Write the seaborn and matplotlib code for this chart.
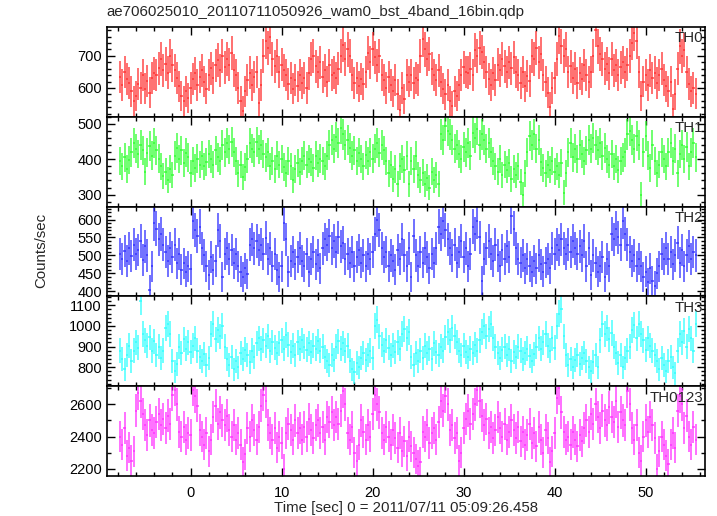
import numpy as np
import pandas as pd
import matplotlib
matplotlib.use("Agg")
import matplotlib.pyplot as plt
from matplotlib.ticker import MultipleLocator
import seaborn as sns

# light curve bins: 0.25 s, first bin centre at -7.75 s
t_start = -7.75
bin_size = 0.25

th0 = [
    635, 610, 650, 628, 615, 590, 560, 575, 612, 600, 640, 598, 622, 585, 630, 645,
    640, 662, 690, 655, 675, 648, 700, 670, 655, 632, 605, 575, 560, 590, 568, 600,
    628, 645, 610, 635, 655, 620, 598, 640, 662, 630, 670, 688, 655, 700, 665, 690,
    672, 710, 655, 640, 600, 560, 528, 590, 625, 648, 610, 635, 650, 552, 610, 700,
    745, 725, 760, 690, 668, 700, 650, 672, 655, 640, 612, 630, 598, 625, 605, 640,
    615, 630, 600, 645, 690, 700, 668, 650, 680, 635, 655, 620, 670, 640, 648, 630,
    660, 700, 735, 690, 720, 700, 640, 615, 630, 605, 628, 612, 650, 710, 680, 722,
    695, 670, 700, 640, 625, 600, 635, 610, 590, 625, 580, 532, 600, 565, 640, 620,
    640, 615, 632, 625, 700, 752, 720, 690, 705, 660, 640, 625, 655, 620, 598, 580,
    610, 560, 545, 590, 575, 610, 640, 665, 650, 648, 660, 640, 718, 700, 725, 712,
    680, 650, 628, 610, 645, 625, 672, 655, 690, 668, 650, 680, 662, 695, 650, 640,
    615, 650, 605, 638, 622, 700, 690, 725, 680, 705, 640, 620, 585, 542, 600, 630,
    690, 762, 730, 700, 720, 650, 668, 630, 660, 615, 645, 628, 670, 640, 618, 650,
    700, 782, 730, 705, 690, 660, 675, 645, 690, 655, 670, 640, 665, 680, 650, 672,
    700, 740, 770, 745, 650, 575, 620, 640, 610, 655, 630, 648, 615, 640, 660, 625,
    605, 590, 620, 535, 580, 660, 730, 700, 718, 650, 612, 590, 600, 582,
]

th1 = [
    395, 380, 405, 372, 398, 420, 446, 430, 415, 440, 425, 365, 418, 438, 410, 445,
    425, 402, 380, 352, 365, 340, 372, 355, 410, 432, 400, 425, 390, 418, 405, 360,
    395, 375, 402, 385, 410, 380, 392, 415, 400, 385, 425, 405, 395, 440, 420, 445,
    428, 450, 420, 395, 360, 385, 350, 378, 400, 445, 430, 420, 448, 428, 440, 415,
    405, 420, 380, 395, 372, 410, 385, 400, 378, 360, 395, 380, 340, 372, 390, 365,
    395, 410, 385, 400, 392, 375, 410, 388, 402, 395, 380, 410, 440, 455, 430, 462,
    445, 488, 470, 440, 455, 432, 410, 425, 395, 418, 400, 380, 412, 395, 420, 402,
    430, 445, 418, 440, 425, 395, 360, 385, 345, 372, 330, 380, 400, 370, 410, 330,
    395, 372, 410, 355, 340, 362, 330, 348, 320, 365, 340, 355, 330, 470, 455, 495,
    480, 470, 455, 430, 440, 415, 400, 435, 420, 445, 410, 475, 460, 485, 440, 470,
    455, 430, 445, 420, 395, 380, 365, 400, 355, 385, 370, 390, 345, 372, 355, 380,
    335, 300, 360, 420, 465, 440, 470, 430, 455, 392, 375, 360, 385, 370, 395, 365,
    380, 355, 390, 305, 360, 420, 445, 405, 430, 400, 440, 415, 395, 425, 455, 430,
    460, 440, 425, 445, 410, 432, 400, 385, 415, 380, 400, 370, 395, 405, 420, 470,
    480, 455, 430, 465, 440, 300, 420, 465, 410, 375, 440, 395, 360, 385, 420, 400,
    380, 420, 445, 395, 430, 360, 415, 440, 400, 435, 380, 420, 445, 405,
]

th2 = [
    505, 490, 512, 485, 520, 498, 530, 505, 515, 540, 488, 525, 500, 405, 470, 590,
    575, 545, 560, 530, 510, 485, 520, 495, 530, 478, 505, 460, 478, 455, 470, 462,
    595, 570, 555, 580, 520, 500, 470, 445, 495, 460, 485, 570, 540, 440, 505, 520,
    490, 515, 478, 505, 470, 455, 440, 465, 448, 530, 545, 520, 540, 515, 530, 505,
    548, 490, 520, 470, 505, 460, 440, 470, 590, 545, 455, 485, 510, 475, 495, 520,
    485, 470, 505, 455, 490, 510, 475, 500, 465, 520, 545, 530, 555, 520, 540, 510,
    550, 525, 535, 490, 505, 480, 510, 470, 495, 515, 480, 500, 470, 505, 490, 510,
    560, 600, 570, 520, 495, 510, 470, 500, 485, 460, 515, 490, 545, 500, 470, 520,
    440, 555, 500, 470, 510, 480, 520, 495, 465, 505, 480, 520, 580, 560, 595, 570,
    545, 520, 500, 530, 480, 510, 540, 495, 520, 470, 505, 580, 560, 595, 550, 430,
    490, 520, 540, 505, 485, 530, 500, 470, 515, 490, 525, 495, 610, 575, 520, 490,
    480, 500, 465, 490, 470, 455, 485, 465, 500, 475, 455, 480, 490, 465, 520, 505,
    530, 515, 545, 520, 505, 530, 510, 540, 520, 505, 525, 500, 540, 470, 520, 445,
    500, 480, 455, 470, 495, 440, 490, 470, 560, 545, 575, 550, 530, 595, 560, 530,
    510, 485, 500, 470, 490, 470, 440, 455, 425, 465, 430, 415, 450, 470, 505, 490,
    520, 490, 510, 475, 500, 535, 480, 515, 470, 500, 525, 490, 510, 500,
]

th3 = [
    880, 840, 790, 860, 905, 830, 880, 920, 895, 1120, 960, 930, 905, 945, 880, 925,
    860, 900, 845, 880, 990, 1010, 960, 830, 780, 815, 900, 870, 935, 890, 920, 875,
    905, 940, 880, 850, 830, 865, 810, 845, 960, 1010, 935, 980, 950, 1000, 900, 840,
    810, 850, 790, 830, 800, 870, 840, 885, 860, 825, 880, 850, 915, 940, 890, 930,
    905, 950, 880, 920, 895, 870, 915, 930, 890, 955, 910, 875, 905, 860, 920, 890,
    930, 900, 885, 915, 875, 905, 890, 925, 880, 900, 850, 830, 810, 860, 835, 900,
    925, 890, 915, 880, 905, 830, 790, 775, 820, 800, 845, 870, 835, 860, 880, 845,
    1000, 1030, 950, 910, 880, 930, 895, 860, 905, 875, 920, 890, 960, 985, 940, 970,
    850, 810, 870, 830, 880, 845, 905, 870, 890, 840, 915, 875, 860, 900, 880, 945,
    970, 930, 990, 950, 920, 880, 860, 905, 875, 850, 890, 870, 910, 880, 930, 970,
    1000, 950, 985, 1010, 940, 900, 870, 845, 885, 900, 860, 890, 830, 875, 850, 900,
    880, 840, 870, 890, 855, 830, 865, 900, 940, 890, 920, 960, 905, 880, 940, 895,
    1000, 1060, 1080, 950, 860, 810, 840, 800, 835, 860, 815, 845, 870, 830, 800, 780,
    825, 860, 800, 930, 1010, 960, 990, 935, 965, 900, 870, 820, 860, 800, 845, 880,
    900, 980, 1005, 940, 1010, 960, 930, 885, 940, 905, 880, 860, 830, 790, 845, 810,
    780, 830, 850, 800, 770, 880, 960, 920, 975, 900, 985, 940, 880, 1010,
]

th0123 = [
    2400, 2350, 2450, 2280, 2330, 2250, 2310, 2560, 2670, 2620, 2540, 2470, 2410, 2500, 2440, 2420,
    2490, 2540, 2470, 2510, 2450, 2530, 2480, 2660, 2690, 2600, 2430, 2400, 2460, 2380, 2420, 2410,
    2690, 2650, 2590, 2440, 2400, 2350, 2420, 2310, 2380, 2520, 2590, 2480, 2550, 2500, 2470, 2530,
    2440, 2400, 2470, 2380, 2420, 2350, 2240, 2290, 2450, 2400, 2500, 2440, 2380, 2460, 2590, 2660,
    2620, 2470, 2420, 2380, 2450, 2330, 2400, 2360, 2200, 2420, 2480, 2440, 2380, 2500, 2420, 2450,
    2380, 2460, 2400, 2510, 2440, 2390, 2470, 2500, 2420, 2460, 2380, 2520, 2490, 2550, 2470, 2520,
    2480, 2560, 2680, 2600, 2420, 2380, 2460, 2300, 2250, 2350, 2500, 2430, 2380, 2470, 2400, 2540,
    2660, 2600, 2550, 2420, 2380, 2460, 2400, 2350, 2440, 2390, 2330, 2420, 2310, 2370, 2280, 2400,
    2340, 2300, 2260, 2220, 2240, 2430, 2400, 2470, 2360, 2420, 2450, 2380, 2490, 2620, 2560, 2650,
    2600, 2440, 2470, 2390, 2420, 2250, 2300, 2450, 2510, 2560, 2480, 2540, 2600, 2690, 2620, 2530,
    2470, 2510, 2420, 2460, 2390, 2440, 2520, 2450, 2400, 2480, 2380, 2430, 2500, 2440, 2390, 2460,
    2370, 2430, 2350, 2410, 2480, 2360, 2420, 2340, 2460, 2380, 2300, 2440, 2390, 2240, 2310, 2420,
    2640, 2700, 2550, 2430, 2380, 2400, 2350, 2430, 2380, 2340, 2410, 2370, 2450, 2500, 2430, 2540,
    2480, 2600, 2520, 2450, 2560, 2500, 2470, 2580, 2520, 2490, 2620, 2460, 2550, 2500, 2470, 2680,
    2600, 2450, 2380, 2470, 2300, 2250, 2400, 2500, 2430, 2520, 2470, 2390, 2200, 2310, 2400, 2350,
    2280, 2230, 2350, 2420, 2330, 2560, 2650, 2600, 2450, 2530, 2400, 2350, 2460, 2380,
]

bands = ["TH0", "TH1", "TH2", "TH3", "TH0123"]
series = [th0, th1, th2, th3, th0123]
colors = ["#ff2a2a", "#2aff2a", "#2a2aff", "#2affff", "#ff2aff"]
ylims = [(510, 790), (266, 520), (386, 636), (708, 1143), (2155, 2712)]
major_step = [100, 100, 50, 100, 200]
minor_step = [20, 20, 10, 20, 100]

# long table: one row per bin per band
frames = []
for band, vals in zip(bands, series):
    rate = np.array(vals, dtype=float)
    time = t_start + bin_size * np.arange(len(rate))
    frames.append(pd.DataFrame({"band": band, "time": time, "rate": rate,
                                "err": np.sqrt(rate / bin_size)}))
df = pd.concat(frames, ignore_index=True)

sns.set_theme(style="ticks")
plt.rcParams["font.family"] = ["Liberation Sans", "DejaVu Sans"]

fig, axes = plt.subplots(5, 1, sharex=True, figsize=(7.17, 5.16), dpi=100)
fig.subplots_adjust(left=0.149, right=0.983, top=0.9477, bottom=0.0775, hspace=0)

for ax, band, c, yl, mj, mn in zip(axes, bands, colors, ylims, major_step, minor_step):
    sub = df[df["band"] == band]
    ax.errorbar(sub["time"], sub["rate"], xerr=bin_size / 2, yerr=sub["err"],
                fmt="none", ecolor=c, elinewidth=1.1, alpha=0.85)
    ax.set_ylim(*yl)
    ax.set_xlim(-9.2, 56.5)
    ax.yaxis.set_major_locator(MultipleLocator(mj))
    ax.yaxis.set_minor_locator(MultipleLocator(mn))
    ax.xaxis.set_major_locator(MultipleLocator(10))
    ax.xaxis.set_minor_locator(MultipleLocator(2))
    ax.tick_params(which="both", direction="in", top=True, right=True,
                   labelsize=10.5, colors="black", width=1.0)
    ax.tick_params(which="major", length=6)
    ax.tick_params(which="minor", length=3)
    ax.tick_params(axis="x", pad=7)
    for s in ax.spines.values():
        s.set_linewidth(1.2)
        s.set_color("black")
    ax.set_ylabel("")
    ax.text(0.997, 0.95, band, transform=ax.transAxes, ha="right", va="top",
            fontsize=10.8)

axes[-1].set_xlabel("Time [sec] 0 = 2011/07/11 05:09:26.458", fontsize=10.8, labelpad=1)
fig.text(0.058, 0.515, "Counts/sec", rotation=90, ha="center", va="center", fontsize=10.8)
fig.text(0.149, 0.977, "ae706025010_20110711050926_wam0_bst_4band_16bin.qdp",
         ha="left", va="center", fontsize=10.8)

fig.savefig("out.png", dpi=100)
